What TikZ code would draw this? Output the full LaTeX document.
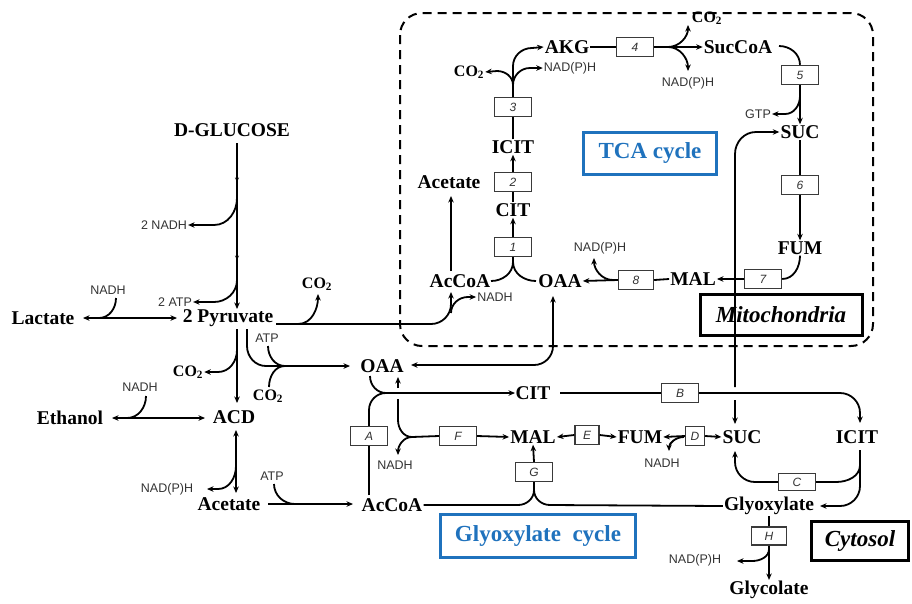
\documentclass[tikz,border=0pt]{standalone}
\usepackage{fontspec}
\setmainfont{Liberation Serif}
\setsansfont{Liberation Sans}
\usetikzlibrary{arrows.meta,decorations.markings}
\definecolor{tcablue}{HTML}{1F72BD}
\definecolor{lblgray}{HTML}{333333}
\definecolor{boxgray}{HTML}{3A3A3A}
\begin{document}
\begin{tikzpicture}[x=1pt,y=-1pt,
  ln/.style={line width=1.8pt,draw=black},
  >={Stealth[length=6.5pt,width=5.5pt]},
  lbl/.style={font=\bfseries\fontsize{19.5pt}{21pt}\selectfont,inner sep=1pt},
  co/.style={font=\bfseries\fontsize{16pt}{18pt}\selectfont,inner sep=1pt},
  sm/.style={font=\sffamily\fontsize{12.5pt}{14pt}\selectfont,text=lblgray,inner sep=1pt},
  rx/.style={draw=boxgray,line width=1.4pt,fill=white,minimum height=19pt,minimum width=37pt,inner sep=0pt,font=\sffamily\itshape\fontsize{12pt}{13pt}\selectfont,text=lblgray},
  cyc/.style={draw=tcablue,line width=3pt,text=tcablue,inner sep=0pt,font=\bfseries\fontsize{23pt}{25pt}\selectfont},
  comp/.style={draw=black,line width=3pt,inner sep=0pt,font=\bfseries\itshape\fontsize{23pt}{25pt}\selectfont}
]
\useasboundingbox (0,0) rectangle (912,603);

% compartment
\draw[line width=2pt,dash pattern=on 9pt off 6pt,rounded corners=22pt] (400,13) rectangle (873,346);
\node[comp,minimum width=162pt,minimum height=41pt] (mito) at (781,315) {Mitochondria};
\node[comp,minimum width=97pt,minimum height=39pt] (cyto) at (860,541) {Cytosol};
\node[cyc,minimum width=133pt,minimum height=42pt] (tca) at (650,153) {TCA cycle};
\node[cyc,minimum width=195pt,minimum height=43pt] (glyc) at (538,536) {Glyoxylate\ \ cycle};

% main metabolites (cytosol)
\node[lbl] (glc) at (232,130) {D-GLUCOSE};
\node[lbl] (pyr) at (228,318) {2 Pyruvate};
\node[lbl] (lac) at (43,318) {Lactate};
\node[lbl] (eth) at (70,418) {Ethanol};
\node[lbl] (acd) at (234,417) {ACD};
\node[lbl] (acetC) at (229,504) {Acetate};
\node[lbl] (accoaC) at (392,505) {AcCoA};
\node[lbl] (oaaC) at (382,366) {OAA};
\node[lbl] (citC) at (533,393) {CIT};
\node[lbl] (malC) at (533,437) {MAL};
\node[lbl] (fumC) at (640,437) {FUM};
\node[lbl] (sucC) at (742,437) {SUC};
\node[lbl] (icitC) at (857,437) {ICIT};
\node[lbl] (glyox) at (769,506) {Glyoxylate};
\node[lbl] (glycol) at (769,590) {Glycolate};

% mitochondrial metabolites
\node[lbl] (accoaM) at (460,281) {AcCoA};
\node[lbl] (oaaM) at (560,281) {OAA};
\node[lbl] (acetM) at (449,182) {Acetate};
\node[lbl] (citM) at (513,210) {CIT};
\node[lbl] (icitM) at (513,147) {ICIT};
\node[lbl] (akg) at (567,47) {AKG};
\node[lbl] (succoa) at (738,47) {SucCoA};
\node[lbl] (sucM) at (800,132) {SUC};
\node[lbl] (fumM) at (800,248) {FUM};
\node[lbl] (malM) at (693,279) {MAL};

% small labels
\node[sm] (nadh1) at (164,225) {2 NADH};
\node[sm] (atp1) at (175,302) {2 ATP};
\node[sm] (nadhL) at (108,290) {NADH};
\node[co] (co2a) at (317,284) {CO\textsubscript{2}};
\node[co] (co2b) at (188,372) {CO\textsubscript{2}};
\node[sm] (atp2) at (267,338) {ATP};
\node[co] (co2c) at (268,396) {CO\textsubscript{2}};
\node[sm] (nadhE) at (140,387) {NADH};
\node[sm] (nadph1) at (167,489) {NAD(P)H};
\node[sm] (atp3) at (272,476) {ATP};
\node[sm] (nadhF) at (395,465) {NADH};
\node[sm] (nadhD) at (662,463) {NADH};
\node[sm] (nadphH) at (695,560) {NAD(P)H};
\node[sm] (nadhM) at (495,297) {NADH};
\node[sm] (nadphM) at (600,248) {NAD(P)H};
\node[co] (co2T) at (469,72) {CO\textsubscript{2}};
\node[sm] (nadphT) at (570,68) {NAD(P)H};
\node[co] (co2U) at (707,18) {CO\textsubscript{2}};
\node[sm] (nadphU) at (688,83) {NAD(P)H};
\node[sm] (gtp) at (758,114) {GTP};

% reaction boxes
\node[rx] (r1) at (513,247) {1};
\node[rx] (r2) at (513,182) {2};
\node[rx] (r3) at (513,107) {3};
\node[rx] (r4) at (635,47) {4};
\node[rx] (r5) at (800,75) {5};
\node[rx] (r6) at (800,185) {6};
\node[rx] (r7) at (763,279) {7};
\node[rx,minimum width=35pt] (r8) at (636,280) {8};
\node[rx] (rA) at (369,436) {A};
\node[rx] (rB) at (680,393) {B};
\node[rx,minimum height=17pt] (rC) at (797,482) {C};
\node[rx,minimum width=19pt] (rD) at (695,436) {D};
\node[rx,minimum width=24pt] (rE) at (587,435) {E};
\node[rx] (rF) at (458,436) {F};
\node[rx] (rG) at (534,472) {G};
\node[rx,minimum width=35pt,minimum height=18pt] (rH) at (769,536) {H};

% glycolysis
\draw[ln,->,postaction={decorate},decoration={markings,
  mark=at position 0.235 with {\arrow{Stealth[length=4.5pt,width=4pt]}},
  mark=at position 0.705 with {\arrow{Stealth[length=4.5pt,width=4pt]}}}]
  (237,143) -- (237,309);
\draw[ln,->] (237,198) to[out=-90,in=0] (214,225) -- (nadh1.east);
\draw[ln,->] (237,280) to[out=-90,in=0] (214,302) -- (atp1.east);
\draw[ln,<->] (83,318) -- (177,318);
\draw[ln] (116,298) to[out=-90,in=0] (99,318);
\draw[ln,->] (276,324) -- (431,324) to[out=0,in=-90] (451,304) -- (451,292);
\draw[ln,->] (298,324) to[out=0,in=-90] (318,294);
\draw[ln,->] (451,313) to[out=90,in=180] (468,297) -- (nadhM.west);

% pyruvate branches
\draw[ln,->] (237,329) -- (237,403);
\draw[ln,->] (237,350) to[out=-90,in=0] (218,372) -- (co2b.east);
\draw[ln,->] (247,329) -- (247,346) to[out=-90,in=180] (266,366) -- (350,366);
\draw[ln] (268,346) to[out=-90,in=180] (285,366);
\draw[ln] (269,387) to[out=90,in=180] (285,366);
\draw[ln,<->] (112,418) -- (205,418);
\draw[ln] (146,396) to[out=-90,in=0] (127,418);
\draw[ln,<->] (236,430) -- (236,493);
\draw[ln,->] (236,466) to[out=-90,in=0] (218,489) -- (207,489);
\draw[ln,->] (268,504) -- (353,504);
\draw[ln] (274,484) to[out=-90,in=180] (295,504);

% cytosolic glyoxylate part
\draw[ln] (369,495) -- (rA.south);
\draw[ln] (rA.north) -- (369,410) to[out=90,in=180] (386,393);
\draw[ln] (370,376) to[out=-90,in=180] (386,393);
\draw[ln,->] (386,393) -- (515,393);
\draw[ln] (398,399) -- (398,420) to[out=-90,in=180] (412,437) -- (rF.west);
\draw[ln,->] (398,388) -- (398,377);
\draw[ln,->] (412,437) to[out=180,in=90] (398,455);
\draw[ln,->] (rF.east) -- (malC.west);
\draw[ln,->] (rE.west) -- (malC.east);
\draw[ln,->] (rE.east) -- (fumC.west);
\draw[ln,->] (rD.west) -- (fumC.east);
\draw[ln,->] (684,437) to[out=180,in=90] (669,451);
\draw[ln,->] (rD.east) -- (sucC.west);
\draw[ln] (560,393) -- (rB.west);
\draw[ln,->] (rB.east) -- (840,393) to[out=0,in=90] (860,413) -- (860,423);
\draw[ln,->] (735,400) -- (735,424);
\draw[ln,->] (735,387) -- (735,154) to[out=90,in=180] (756,132) -- (sucM.west);
\draw[ln] (860,450) -- (860,465);
\draw[ln] (860,465) to[out=-90,in=0] (836,482) -- (rC.east);
\draw[ln,->] (rC.west) -- (755,482) to[out=180,in=-90] (735,462) -- (735,451);
\draw[ln,->] (860,465) -- (860,486) to[out=-90,in=0] (840,506) -- (820,506);
\draw[ln] (glyox.west) -- (550,505) to[out=180,in=-90] (534,490) -- (rG.south);
\draw[ln] (accoaC.east) -- (518,505) to[out=0,in=-90] (534,490);
\draw[ln,->] (rG.north) -- (malC.south);
\draw[ln] (glyox.south) -- (rH.north);
\draw[ln,->] (rH.south) -- (glycol.north);
\draw[ln,->] (769,549) to[out=-90,in=0] (752,561) -- (737,561);

% mitochondria
\draw[ln,<->] (411,365) -- (534,365) to[out=0,in=-90] (553,346) -- (553,296);
\draw[ln,->] (451,271) -- (451,196);
\draw[ln] (491,281) to[out=0,in=-90] (513,262) -- (r1.south);
\draw[ln] (536,281) to[out=180,in=-90] (513,262);
\draw[ln,->] (r1.north) -- (citM.south);
\draw[ln] (citM.north) -- (r2.south);
\draw[ln,->] (r2.north) -- (icitM.south);
\draw[ln] (icitM.north) -- (r3.south);
\draw[ln] (r3.north) -- (513,85);
\draw[ln,->] (513,85) to[out=90,in=0] (497,71) -- (co2T.east);
\draw[ln,->] (513,85) to[out=90,in=180] (530,68) -- (nadphT.west);
\draw[ln,->] (513,85) -- (513,66) to[out=90,in=180] (532,48) -- (akg.west);
\draw[ln] (akg.east) -- (r4.west);
\draw[ln,->] (r4.east) -- (succoa.west);
\draw[ln,->] (668,47) to[out=0,in=-90] (688,25);
\draw[ln,->] (668,47) to[out=0,in=90] (688,71);
\draw[ln] (779,46) to[out=0,in=90] (r5.north);
\draw[ln,->] (r5.south) -- (sucM.north);
\draw[ln,->] (800,96) to[out=-90,in=0] (785,114) -- (gtp.east);
\draw[ln] (sucM.south) -- (r6.north);
\draw[ln,->] (r6.south) -- (fumM.north);
\draw[ln] (fumM.south) to[out=-90,in=0] (r7.east);
\draw[ln,->] (r7.west) -- (malM.east);
\draw[ln] (malM.west) -- (r8.east);
\draw[ln,->] (r8.west) -- (oaaM.east);
\draw[ln,->] (613,280) to[out=180,in=-90] (594,258);
\end{tikzpicture}
\end{document}
